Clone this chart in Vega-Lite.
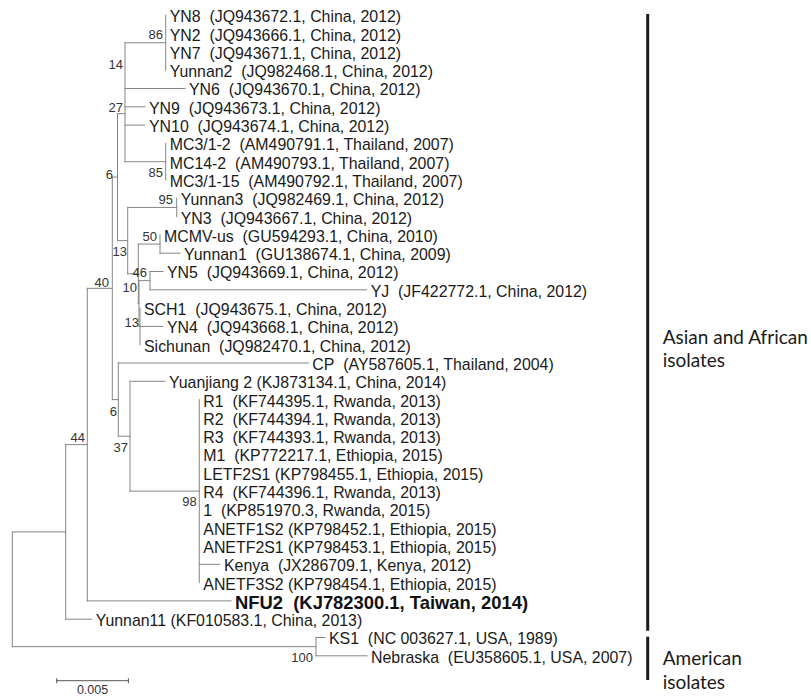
{
  "$schema": "https://vega.github.io/schema/vega-lite/v6.json",
  "width": 811,
  "height": 697,
  "autosize": {"type": "none"},
  "padding": 0,
  "background": "white",
  "config": {"view": {"stroke": null}},
  "datasets": {
    "branches": [
      {"x":0,"y":28.23,"x2":0,"y2":34.5},
      {"x":0.003724,"y":23.46,"x2":0.003724,"y2":33},
      {"x":0.00523,"y":14.92,"x2":0.00523,"y2":32},
      {"x":0.006974,"y":8.84,"x2":0.006974,"y2":21},
      {"x":0.007336,"y":5.375,"x2":0.007336,"y2":12.3125},
      {"x":0.007859,"y":1.5,"x2":0.007859,"y2":8},
      {"x":0.010697,"y":0,"x2":0.010697,"y2":3},
      {"x":0.010697,"y":7,"x2":0.010697,"y2":9},
      {"x":0.008047,"y":10.5,"x2":0.008047,"y2":14.125},
      {"x":0.011464,"y":10,"x2":0.011464,"y2":11},
      {"x":0.008787,"y":12.5,"x2":0.008787,"y2":15.75},
      {"x":0.0103,"y":12,"x2":0.0103,"y2":13},
      {"x":0.008835,"y":14.5,"x2":0.008835,"y2":17},
      {"x":0.009603,"y":14,"x2":0.009603,"y2":15},
      {"x":0.008905,"y":16,"x2":0.008905,"y2":18},
      {"x":0.007392,"y":19,"x2":0.007392,"y2":23},
      {"x":0.008208,"y":20,"x2":0.008208,"y2":26},
      {"x":0.01304,"y":21,"x2":0.01304,"y2":31},
      {"x":0.021178,"y":34,"x2":0.021178,"y2":35},
      {"x":0,"y":28.23,"x2":0.003724,"y2":28.23},
      {"x":0,"y":34.5,"x2":0.021178,"y2":34.5},
      {"x":0.003724,"y":23.46,"x2":0.00523,"y2":23.46},
      {"x":0.003724,"y":33,"x2":0.005537,"y2":33},
      {"x":0.00523,"y":14.92,"x2":0.006974,"y2":14.92},
      {"x":0.00523,"y":32,"x2":0.015251,"y2":32},
      {"x":0.006974,"y":8.84,"x2":0.007336,"y2":8.84},
      {"x":0.006974,"y":21,"x2":0.007392,"y2":21},
      {"x":0.007336,"y":5.375,"x2":0.007859,"y2":5.375},
      {"x":0.007336,"y":12.3125,"x2":0.008047,"y2":12.3125},
      {"x":0.007859,"y":1.5,"x2":0.010697,"y2":1.5},
      {"x":0.007859,"y":4,"x2":0.012043,"y2":4},
      {"x":0.007859,"y":5,"x2":0.009254,"y2":5},
      {"x":0.007859,"y":6,"x2":0.009254,"y2":6},
      {"x":0.007859,"y":8,"x2":0.010697,"y2":8},
      {"x":0.008047,"y":10.5,"x2":0.011464,"y2":10.5},
      {"x":0.008047,"y":14.125,"x2":0.008787,"y2":14.125},
      {"x":0.008787,"y":12.5,"x2":0.0103,"y2":12.5},
      {"x":0.008787,"y":15.75,"x2":0.008835,"y2":15.75},
      {"x":0.0103,"y":13,"x2":0.011695,"y2":13},
      {"x":0.008835,"y":14.5,"x2":0.009603,"y2":14.5},
      {"x":0.008835,"y":17,"x2":0.008905,"y2":17},
      {"x":0.009603,"y":14,"x2":0.010509,"y2":14},
      {"x":0.009603,"y":15,"x2":0.024714,"y2":15},
      {"x":0.008905,"y":17,"x2":0.010509,"y2":17},
      {"x":0.007392,"y":19,"x2":0.020641,"y2":19},
      {"x":0.007392,"y":23,"x2":0.008208,"y2":23},
      {"x":0.008208,"y":20,"x2":0.010649,"y2":20},
      {"x":0.008208,"y":26,"x2":0.01304,"y2":26},
      {"x":0.01304,"y":30,"x2":0.014484,"y2":30},
      {"x":0.021178,"y":34,"x2":0.021806,"y2":34},
      {"x":0.021178,"y":35,"x2":0.024735,"y2":35}
    ],
    "tips": [
      {"label":"YN8\u00a0 (JQ943672.1, China, 2012)","x":0.010697,"y":0,"focal":false},
      {"label":"YN2\u00a0 (JQ943666.1, China, 2012)","x":0.010697,"y":1,"focal":false},
      {"label":"YN7\u00a0 (JQ943671.1, China, 2012)","x":0.010697,"y":2,"focal":false},
      {"label":"Yunnan2\u00a0 (JQ982468.1, China, 2012)","x":0.010697,"y":3,"focal":false},
      {"label":"YN6\u00a0 (JQ943670.1, China, 2012)","x":0.012043,"y":4,"focal":false},
      {"label":"YN9\u00a0 (JQ943673.1, China, 2012)","x":0.009254,"y":5,"focal":false},
      {"label":"YN10\u00a0 (JQ943674.1, China, 2012)","x":0.009254,"y":6,"focal":false},
      {"label":"MC3/1-2\u00a0 (AM490791.1, Thailand, 2007)","x":0.010697,"y":7,"focal":false},
      {"label":"MC14-2\u00a0 (AM490793.1, Thailand, 2007)","x":0.010697,"y":8,"focal":false},
      {"label":"MC3/1-15\u00a0 (AM490792.1, Thailand, 2007)","x":0.010697,"y":9,"focal":false},
      {"label":"Yunnan3\u00a0 (JQ982469.1, China, 2012)","x":0.011464,"y":10,"focal":false},
      {"label":"YN3\u00a0 (JQ943667.1, China, 2012)","x":0.011464,"y":11,"focal":false},
      {"label":"MCMV-us\u00a0 (GU594293.1, China, 2010)","x":0.0103,"y":12,"focal":false},
      {"label":"Yunnan1\u00a0 (GU138674.1, China, 2009)","x":0.011695,"y":13,"focal":false},
      {"label":"YN5\u00a0 (JQ943669.1, China, 2012)","x":0.010509,"y":14,"focal":false},
      {"label":"YJ\u00a0 (JF422772.1, China, 2012)","x":0.024714,"y":15,"focal":false},
      {"label":"SCH1\u00a0 (JQ943675.1, China, 2012)","x":0.008905,"y":16,"focal":false},
      {"label":"YN4\u00a0 (JQ943668.1, China, 2012)","x":0.010509,"y":17,"focal":false},
      {"label":"Sichunan\u00a0 (JQ982470.1, China, 2012)","x":0.008905,"y":18,"focal":false},
      {"label":"CP\u00a0 (AY587605.1, Thailand, 2004)","x":0.020641,"y":19,"focal":false},
      {"label":"Yuanjiang 2 (KJ873134.1, China, 2014)","x":0.010649,"y":20,"focal":false},
      {"label":"R1\u00a0 (KF744395.1, Rwanda, 2013)","x":0.01304,"y":21,"focal":false},
      {"label":"R2\u00a0 (KF744394.1, Rwanda, 2013)","x":0.01304,"y":22,"focal":false},
      {"label":"R3\u00a0 (KF744393.1, Rwanda, 2013)","x":0.01304,"y":23,"focal":false},
      {"label":"M1\u00a0 (KP772217.1, Ethiopia, 2015)","x":0.01304,"y":24,"focal":false},
      {"label":"LETF2S1 (KP798455.1, Ethiopia, 2015)","x":0.01304,"y":25,"focal":false},
      {"label":"R4\u00a0 (KF744396.1, Rwanda, 2013)","x":0.01304,"y":26,"focal":false},
      {"label":"1\u00a0 (KP851970.3, Rwanda, 2015)","x":0.01304,"y":27,"focal":false},
      {"label":"ANETF1S2 (KP798452.1, Ethiopia, 2015)","x":0.01304,"y":28,"focal":false},
      {"label":"ANETF2S1 (KP798453.1, Ethiopia, 2015)","x":0.01304,"y":29,"focal":false},
      {"label":"Kenya\u00a0 (JX286709.1, Kenya, 2012)","x":0.014484,"y":30,"focal":false},
      {"label":"ANETF3S2 (KP798454.1, Ethiopia, 2015)","x":0.01304,"y":31,"focal":false},
      {"label":"NFU2\u00a0 (KJ782300.1, Taiwan, 2014)","x":0.015251,"y":32,"focal":true},
      {"label":"Yunnan11 (KF010583.1, China, 2013)","x":0.005537,"y":33,"focal":false},
      {"label":"KS1\u00a0 (NC 003627.1, USA, 1989)","x":0.021806,"y":34,"focal":false},
      {"label":"Nebraska\u00a0 (EU358605.1, USA, 2007)","x":0.024735,"y":35,"focal":false}
    ],
    "support": [
      {"value":"86","x":0.010509,"y":1.077},
      {"value":"14","x":0.00772,"y":2.716},
      {"value":"27","x":0.00772,"y":5.066},
      {"value":"85","x":0.010509,"y":8.617},
      {"value":"6","x":0.007022,"y":8.727},
      {"value":"95","x":0.011206,"y":10.093},
      {"value":"50","x":0.010091,"y":12.115},
      {"value":"13","x":0.007999,"y":12.934},
      {"value":"40","x":0.006743,"y":14.628},
      {"value":"46","x":0.009393,"y":14.082},
      {"value":"10","x":0.008696,"y":14.902},
      {"value":"13","x":0.008835,"y":16.814},
      {"value":"6","x":0.007301,"y":21.678},
      {"value":"44","x":0.00507,"y":23.098},
      {"value":"37","x":0.008068,"y":23.628},
      {"value":"98","x":0.012859,"y":26.579},
      {"value":"100","x":0.020969,"y":35.12}
    ],
    "groups": [
      {"group":"Asian and African isolates","x":0.04431,"y":-0.071,"y2":33.628},
      {"group":"American isolates","x":0.04431,"y":33.956,"y2":36.322}
    ],
    "groupText": [
      {"text":"Asian and African","x":0.045356,"y":17.634},
      {"text":"isolates","x":0.045356,"y":18.891},
      {"text":"American","x":0.045356,"y":35.175},
      {"text":"isolates","x":0.045356,"y":36.486}
    ],
    "scalebar": [
      {"x":0.003096,"x2":0.008096,"y":36.361,"y2":36.361},
      {"x":0.003096,"x2":0.003096,"y":36.224,"y2":36.498},
      {"x":0.008096,"x2":0.008096,"y":36.224,"y2":36.498}
    ],
    "scaleText": [
      {"text":"0.005","x":0.005596,"y":36.85}
    ]
  },
  "layer": [
    {
      "data": {"name": "branches"},
      "mark": {"type": "rule", "color": "#858585", "strokeWidth": 1, "strokeCap": "square"},
      "encoding": {
        "x": {"field": "x", "type": "quantitative", "axis": null, "scale": {"domain": [-0.0008577, 0.0556974], "nice": false, "zero": false}},
        "x2": {"field": "x2"},
        "y": {"field": "y", "type": "quantitative", "axis": null, "scale": {"domain": [-0.83607, 37.2514], "reverse": true, "nice": false, "zero": false}},
        "y2": {"field": "y2"}
      }
    },
    {
      "data": {"name": "scalebar"},
      "mark": {"type": "rule", "color": "#555555", "strokeWidth": 1},
      "encoding": {
        "x": {"field": "x", "type": "quantitative"},
        "x2": {"field": "x2"},
        "y": {"field": "y", "type": "quantitative"},
        "y2": {"field": "y2"}
      }
    },
    {
      "data": {"name": "groups"},
      "mark": {"type": "rule", "color": "#1a1a1a", "strokeWidth": 3},
      "encoding": {
        "x": {"field": "x", "type": "quantitative"},
        "y": {"field": "y", "type": "quantitative"},
        "y2": {"field": "y2"}
      }
    },
    {
      "data": {"name": "tips"},
      "transform": [{"filter": "!datum.focal"}],
      "mark": {"type": "text", "align": "left", "baseline": "middle", "dx": 4, "dy": 2, "font": "Liberation Sans", "fontSize": 15.9, "color": "#1a1a1a"},
      "encoding": {
        "x": {"field": "x", "type": "quantitative"},
        "y": {"field": "y", "type": "quantitative"},
        "text": {"field": "label"}
      }
    },
    {
      "data": {"name": "tips"},
      "transform": [{"filter": "datum.focal"}],
      "mark": {"type": "text", "align": "left", "baseline": "middle", "dx": 4, "dy": 2, "font": "Liberation Sans", "fontSize": 18.4, "fontWeight": "bold", "color": "#111111"},
      "encoding": {
        "x": {"field": "x", "type": "quantitative"},
        "y": {"field": "y", "type": "quantitative"},
        "text": {"field": "label"}
      }
    },
    {
      "data": {"name": "support"},
      "mark": {"type": "text", "align": "right", "baseline": "middle", "font": "Liberation Sans", "fontSize": 13, "color": "#333333"},
      "encoding": {
        "x": {"field": "x", "type": "quantitative"},
        "y": {"field": "y", "type": "quantitative"},
        "text": {"field": "value"}
      }
    },
    {
      "data": {"name": "groupText"},
      "mark": {"type": "text", "align": "left", "baseline": "middle", "font": "Lato", "fontSize": 19, "color": "#1a1a1a"},
      "encoding": {
        "x": {"field": "x", "type": "quantitative"},
        "y": {"field": "y", "type": "quantitative"},
        "text": {"field": "text"}
      }
    },
    {
      "data": {"name": "scaleText"},
      "mark": {"type": "text", "align": "center", "baseline": "middle", "font": "Liberation Sans", "fontSize": 12.5, "color": "#333333"},
      "encoding": {
        "x": {"field": "x", "type": "quantitative"},
        "y": {"field": "y", "type": "quantitative"},
        "text": {"field": "text"}
      }
    }
  ]
}
